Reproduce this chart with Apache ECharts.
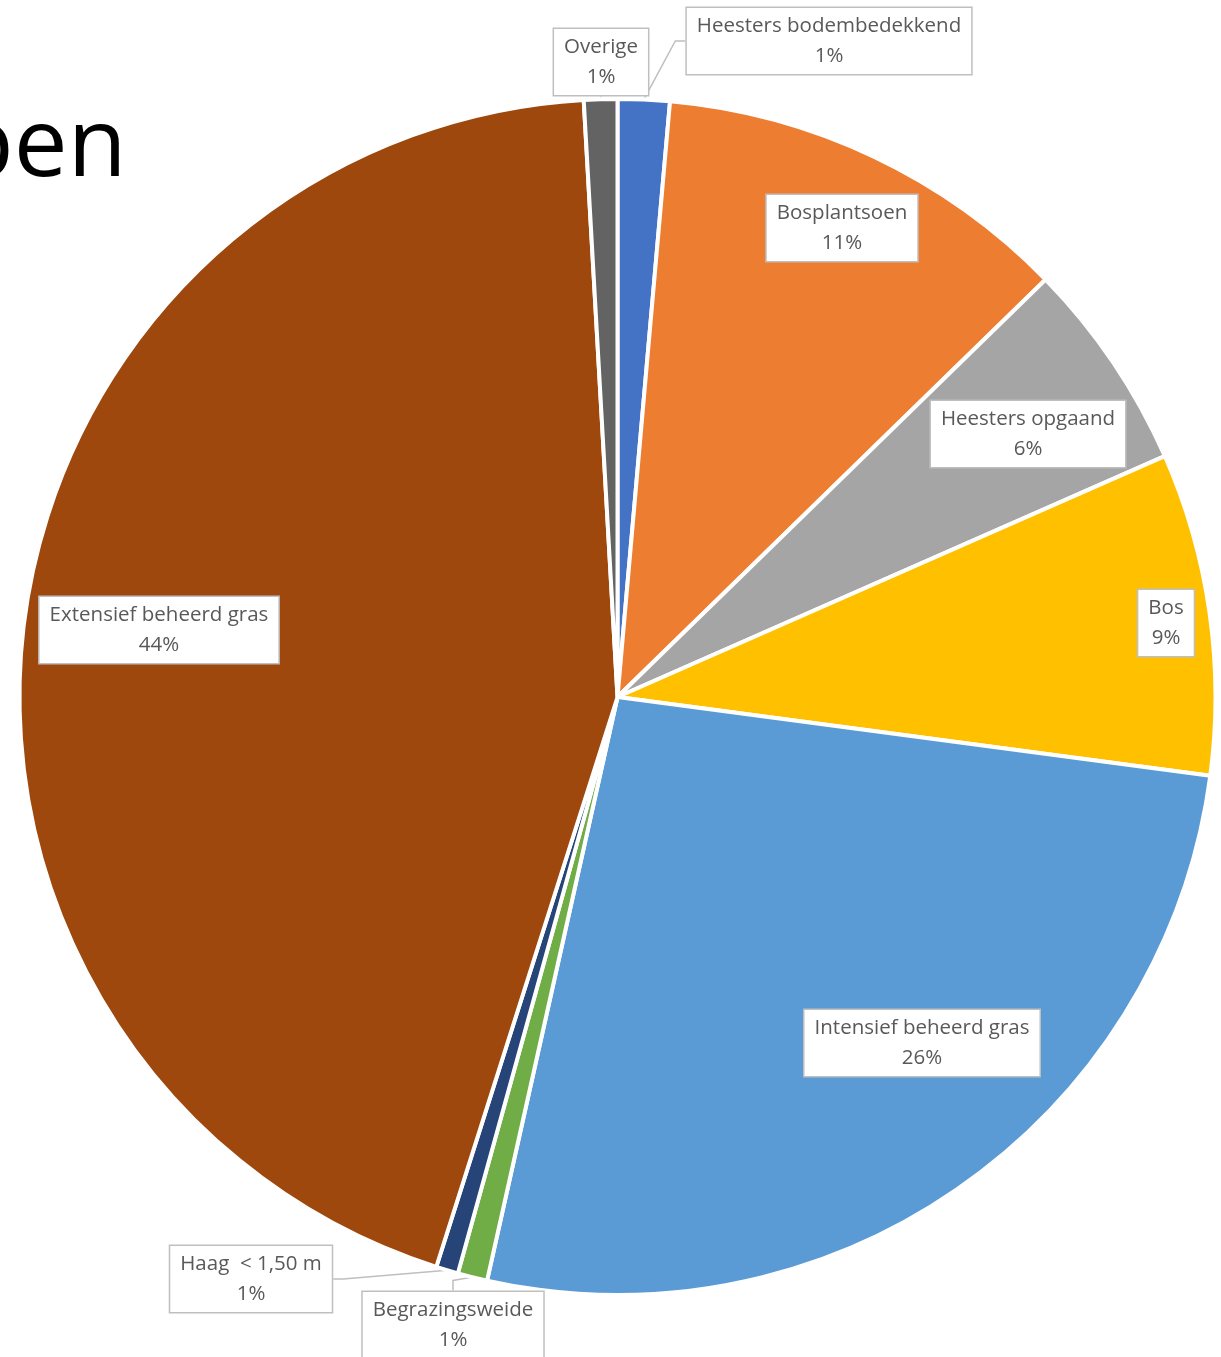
<!DOCTYPE html>
<html>
<head>
<meta charset="utf-8">
<script src="https://cdn.jsdelivr.net/npm/echarts@6/dist/echarts.min.js"></script>
<style>
html,body{margin:0;padding:0;background:#fff;}
#chart{width:1221px;height:1357px;}
</style>
</head>
<body>
<div id="chart"></div>
<script>
// ---- data ----
var titleText = 'pen';
var categories = ['Heesters bodembedekkend', 'Bosplantsoen', 'Heesters opgaand', 'Bos', 'Intensief beheerd gras', 'Begrazingsweide', 'Haag  < 1,50 m', 'Extensief beheerd gras', 'Overige'];
var shares = [1.4, 11.3, 5.7, 8.7, 26.4, 0.8, 0.6, 44.2, 0.9];

// ---- style / layout (not data) ----
var colors = ['#4472C4', '#ED7D31', '#A5A5A5', '#FFC000', '#5B9BD5', '#70AD47', '#264478', '#9E480E', '#636363'];
var labelCenters = [
  [829, 41], [842, 228], [1028, 434], [1166, 623], [922, 1043],
  [453, 1325], [251, 1279], [159, 630], [601, 62]
];

var chart = echarts.init(document.getElementById('chart'), null, {renderer: 'canvas'});
var total = shares.reduce(function (a, b) { return a + b; }, 0);

chart.setOption({
  backgroundColor: '#ffffff',
  animation: false,
  title: {
    text: titleText,
    left: -50,
    top: 96,
    textStyle: {fontFamily: 'Open Sans', fontSize: 96, fontWeight: 'normal', color: '#000000'}
  },
  series: [{
    type: 'pie',
    center: [617.5, 697],
    radius: 598,
    startAngle: 90,
    clockwise: true,
    avoidLabelOverlap: false,
    itemStyle: {borderColor: '#ffffff', borderWidth: 4},
    data: categories.map(function (c, i) {
      return {name: c, value: shares[i], itemStyle: {color: colors[i]}};
    }),
    label: {
      show: true,
      position: 'outside',
      formatter: function (p) {
        return p.name + '\n' + Math.round(p.value / total * 100) + '%';
      },
      fontFamily: 'Open Sans',
      fontSize: 20.5,
      lineHeight: 30,
      color: '#595959',
      align: 'center',
      backgroundColor: '#ffffff',
      borderColor: '#BFBFBF',
      borderWidth: 1.5,
      padding: [5, 10, 1, 10]
    },
    labelLine: {
      show: true,
      length: 10,
      length2: 10,
      lineStyle: {color: '#BFBFBF', width: 1.5}
    },
    labelLayout: function (params) {
      var c = labelCenters[params.dataIndex];
      return {x: c[0], y: c[1], align: 'center', verticalAlign: 'middle'};
    },
    emphasis: {disabled: true}
  }]
});
</script>
</body>
</html>
